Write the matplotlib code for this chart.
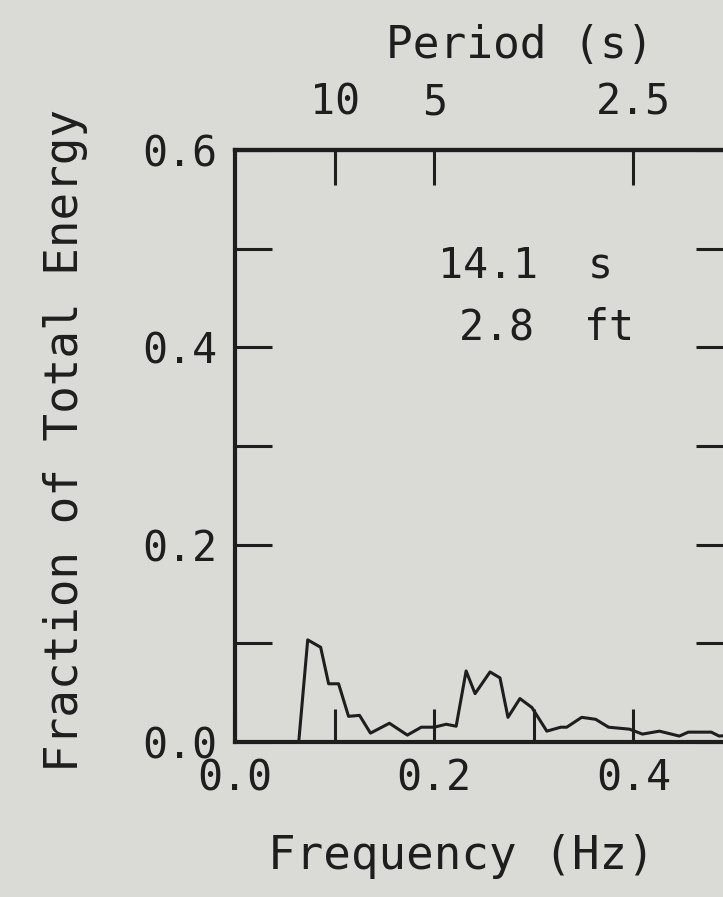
import numpy as np
import matplotlib.pyplot as plt

# spectrum
freq = [0.064, 0.073, 0.086, 0.094, 0.104, 0.114, 0.125, 0.136, 0.155, 0.173,
        0.187, 0.200, 0.212, 0.222, 0.232, 0.241, 0.256, 0.266, 0.274, 0.286,
        0.298, 0.313, 0.327, 0.333, 0.348, 0.362, 0.375, 0.396, 0.409, 0.426,
        0.446, 0.455, 0.478, 0.486, 0.500]
energy = [0.0, 0.1035, 0.096, 0.059, 0.059, 0.026, 0.027, 0.009, 0.019, 0.007,
          0.015, 0.015, 0.018, 0.016, 0.072, 0.049, 0.071, 0.065, 0.025, 0.044,
          0.035, 0.011, 0.015, 0.015, 0.025, 0.023, 0.015, 0.013, 0.008, 0.011,
          0.006, 0.010, 0.010, 0.006, 0.007]

periods = [10, 5, 2.5]
period_labels = ["10", "5", "2.5"]
peak_period = "14.1  s"
peak_height = "2.8  ft"

bg = "#dadad7"
ink = "#1e1e1e"
fs = 30

# lettering-guide look: evenly spaced glyphs
plt.rcParams['font.family'] = ['DejaVu Sans Mono', 'DejaVu Sans']
fig = plt.figure(figsize=(7.23, 8.97), dpi=100, facecolor=bg)
ax = fig.add_axes([0.325, 0.1728, 0.689, 0.66], facecolor=bg)

ax.plot(freq, energy, color=ink, lw=2.2)

ax.set_xlim(0, 0.5)
ax.set_ylim(0, 0.6)

for s in ax.spines.values():
    s.set_linewidth(3)
    s.set_color(ink)

ax.set_xticks([0.0, 0.2, 0.4])
ax.set_xticklabels(["0.0", "0.2", "0.4"])
ax.set_xticks([0.1, 0.3], minor=True)
ax.set_yticks([0.0, 0.2, 0.4, 0.6])
ax.set_yticklabels(["0.0", "0.2", "0.4", "0.6"])
ax.set_yticks([0.1, 0.3, 0.5], minor=True)

ax.tick_params(axis='x', which='both', direction='in', length=24, width=2.2,
               color=ink, labelsize=fs, labelcolor=ink, pad=11)
ax.tick_params(axis='y', which='both', direction='in', length=26.5, width=2.2,
               color=ink, labelsize=fs, labelcolor=ink, pad=13, right=True)

sec = ax.secondary_xaxis('top')
sec.set_xticks([1 / p for p in periods])
sec.set_xticklabels(period_labels)
sec.tick_params(direction='in', length=25, width=2.2, color=ink,
                labelsize=fs, labelcolor=ink, pad=19)
sec.spines['top'].set_linewidth(3)
fig.text(520 / 723, 1 - 45 / 897, "Period (s)", fontsize=32, color=ink,
         ha='center', va='center')

ax.set_xlabel("Frequency (Hz)", fontsize=33, color=ink)
ax.xaxis.set_label_coords(0.454, -0.155)
ax.set_ylabel("Fraction of Total Energy", fontsize=33, color=ink)
ax.yaxis.set_label_coords(-0.295, 0.51)

ax.text(0.204, 0.483, peak_period, fontsize=30, color=ink, va='center')
ax.text(0.225, 0.42, peak_height, fontsize=30, color=ink, va='center')

fig.savefig("out.png", dpi=100, facecolor=bg)
